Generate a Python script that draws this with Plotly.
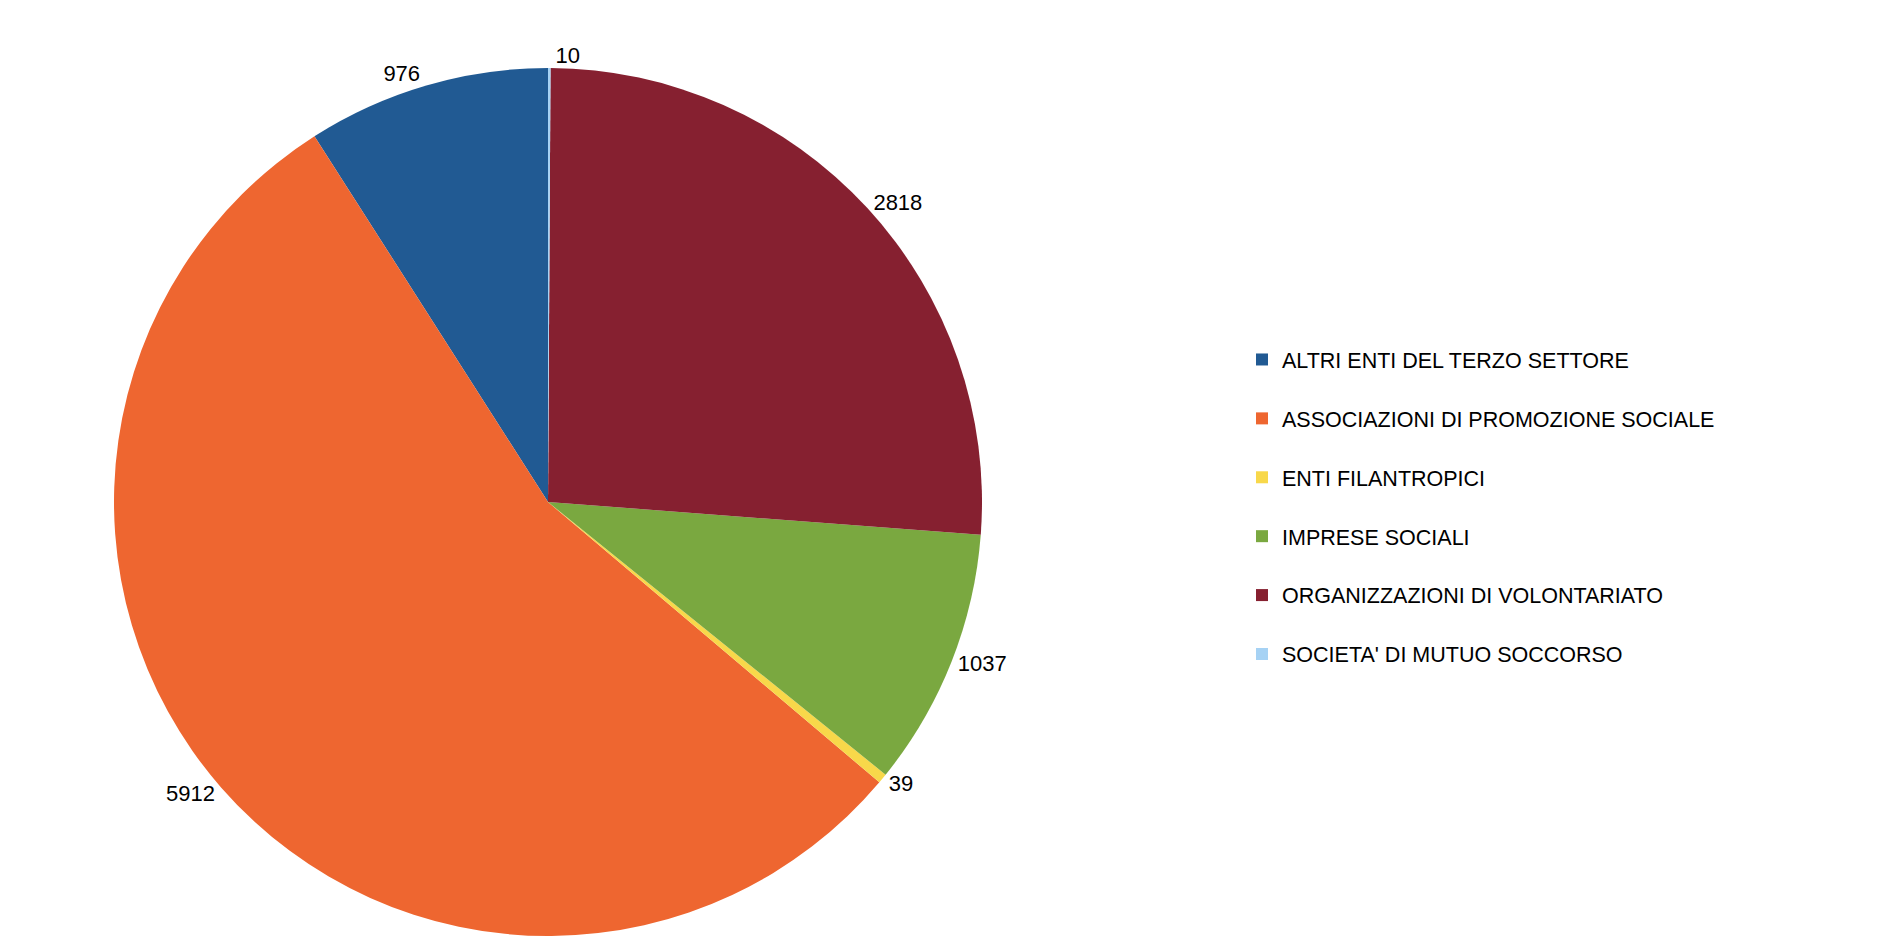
import plotly.graph_objects as go

categorie = [
    "ALTRI ENTI DEL TERZO SETTORE",
    "ASSOCIAZIONI DI PROMOZIONE SOCIALE",
    "ENTI FILANTROPICI",
    "IMPRESE SOCIALI",
    "ORGANIZZAZIONI DI VOLONTARIATO",
    "SOCIETA' DI MUTUO SOCCORSO",
]
valori = [976, 5912, 39, 1037, 2818, 10]
colori = ["#215A93", "#EE6630", "#F8D84A", "#7AA840", "#862030", "#A6D2F4"]

W, H = 1894, 946

# the empty second line only widens the legend rows
etichette = [c + "<br> " for c in categorie]

# first slice ends at 12 o'clock, the others follow counterclockwise
rotazione = -360 * valori[0] / sum(valori)

fig = go.Figure(go.Pie(
    labels=etichette,
    values=valori,
    customdata=categorie,
    marker=dict(colors=colori, line=dict(width=0)),
    sort=False,
    direction="counterclockwise",
    rotation=rotazione,
    textinfo="value",
    textposition="outside",
    outsidetextfont=dict(size=22, color="#000000"),
    hovertemplate="%{customdata}: %{value}<extra></extra>",
    domain=dict(x=[106 / W, 974 / W], y=[18 / H, 886 / H]),
))

fig.update_layout(
    width=W,
    height=H,
    margin=dict(l=0, r=0, t=0, b=0),
    paper_bgcolor="white",
    font=dict(family="Liberation Sans, Arial, sans-serif", color="#000000"),
    legend=dict(
        x=1234 / W,
        xanchor="left",
        y=1 - 331 / H,
        yanchor="top",
        valign="top",
        font=dict(size=21.5, color="#000000"),
    ),
)

fig.write_html("out.html")
